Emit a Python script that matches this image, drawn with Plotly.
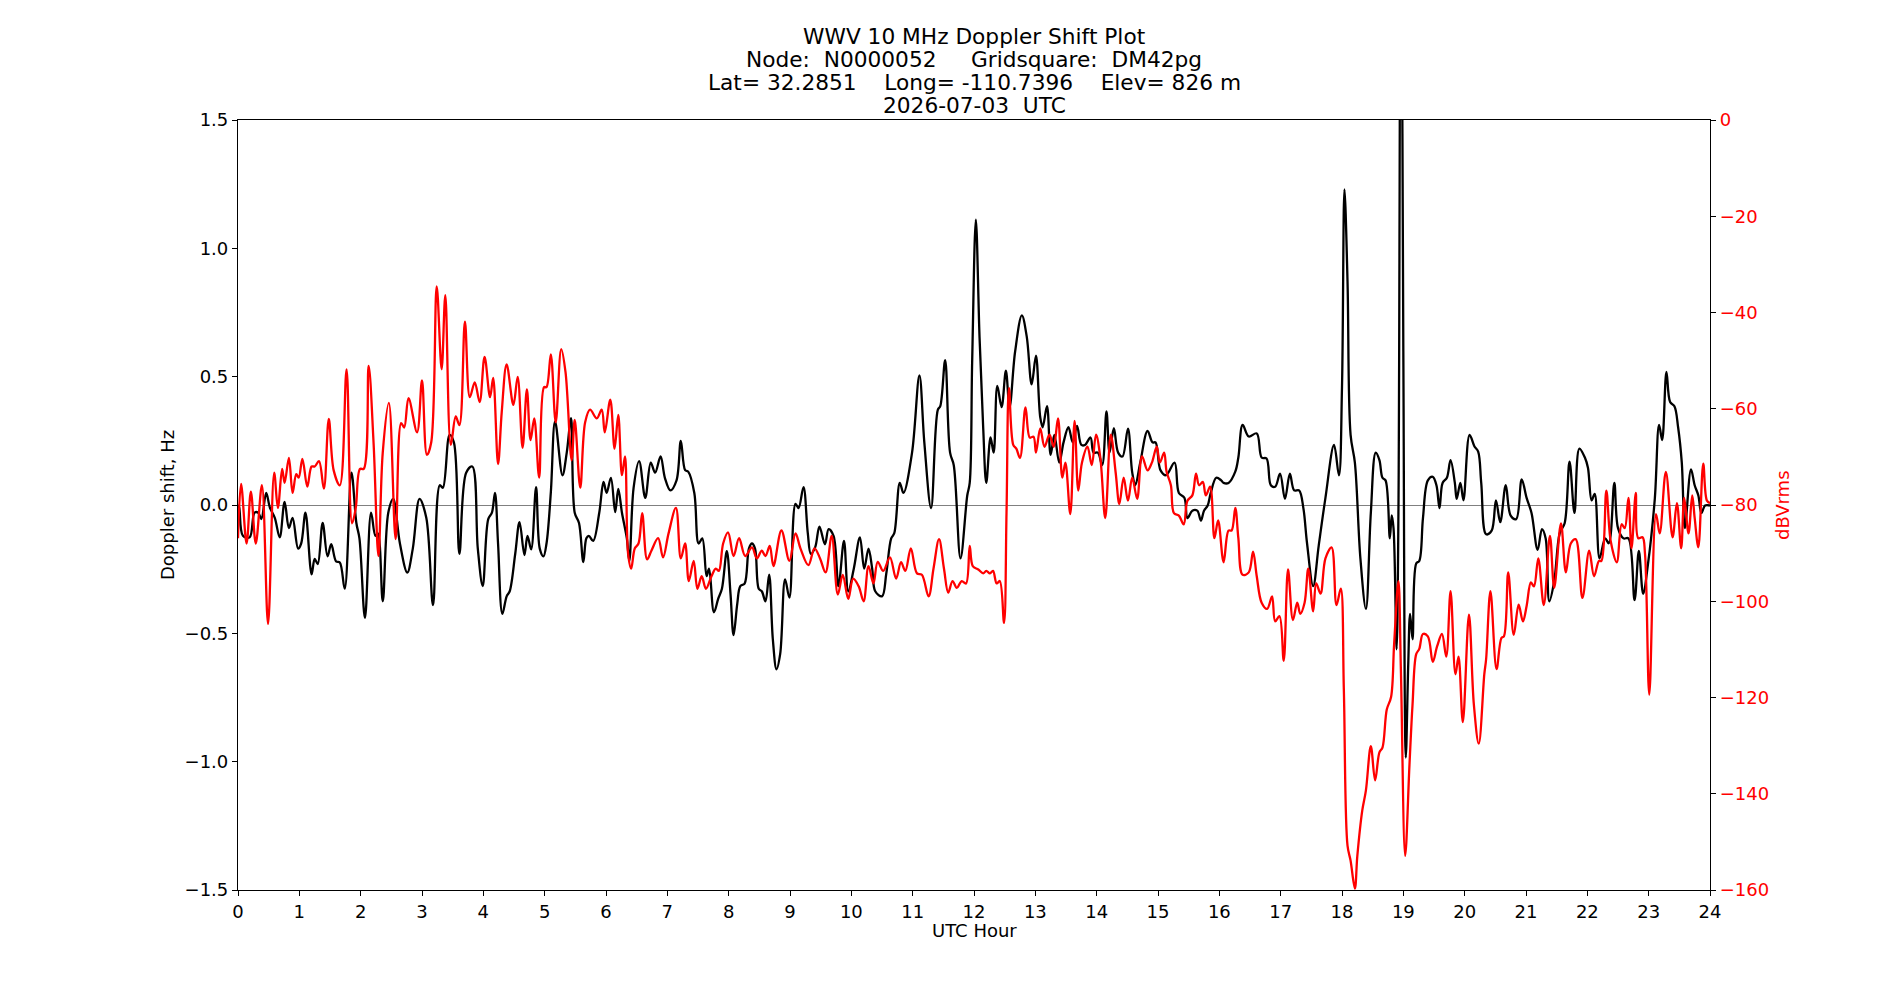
import plotly.graph_objects as go

# ---------------- data ----------------
doppler_hours = [
    0.00, 0.02, 0.08, 0.19, 0.27, 0.33, 0.38, 0.46, 0.52, 0.60, 0.68, 0.76, 0.83, 0.89, 0.98,
    1.03, 1.10, 1.20, 1.25, 1.30, 1.38, 1.46, 1.52, 1.60, 1.66, 1.74, 1.85, 1.93, 1.98, 2.07,
    2.17, 2.24, 2.28, 2.36, 2.45, 2.53, 2.64, 2.76, 2.85, 2.96, 3.07, 3.18, 3.29, 3.34, 3.45,
    3.52, 3.61, 3.72, 3.82, 3.91, 3.99,
    4.08, 4.14, 4.19, 4.24, 4.31, 4.38, 4.43, 4.52, 4.59, 4.67, 4.72, 4.78, 4.86, 4.92, 4.98,
    5.03, 5.10, 5.17, 5.29, 5.36, 5.43, 5.49, 5.56, 5.63, 5.68, 5.72, 5.79, 5.89, 5.96, 6.01,
    6.08, 6.15, 6.20, 6.26, 6.34, 6.38, 6.45, 6.54, 6.64, 6.73, 6.80, 6.89, 6.96, 7.05, 7.15,
    7.22, 7.29, 7.34, 7.44, 7.51, 7.57, 7.64, 7.68, 7.76, 7.83, 7.89, 7.97, 8.03,
    8.08, 8.14, 8.19, 8.26, 8.33, 8.38, 8.43, 8.49, 8.54, 8.60, 8.66, 8.72, 8.78, 8.84, 8.92,
    8.99, 9.09, 9.14, 9.22, 9.29, 9.34, 9.41, 9.48, 9.57, 9.63, 9.71, 9.79, 9.88, 9.95, 10.04,
    10.14, 10.21, 10.28, 10.34, 10.39, 10.50, 10.57, 10.65, 10.70, 10.79, 10.85, 10.99, 11.11,
    11.19, 11.30, 11.41, 11.45, 11.53, 11.61, 11.67, 11.78, 11.89, 11.93, 11.97, 12.03,
    12.09, 12.15, 12.20, 12.27, 12.32, 12.38, 12.45, 12.52, 12.58, 12.67, 12.78, 12.86, 12.94,
    13.01, 13.08, 13.12, 13.19, 13.25, 13.31, 13.39, 13.46, 13.54, 13.61, 13.68, 13.75, 13.81,
    13.90, 13.95, 14.02, 14.09, 14.16, 14.21, 14.28, 14.35, 14.42, 14.51, 14.58, 14.63, 14.71,
    14.83, 14.91, 14.96, 15.04, 15.13, 15.27, 15.34, 15.43, 15.48, 15.56, 15.64, 15.70, 15.75,
    15.81, 15.86, 15.95, 16.03,
    16.07, 16.15, 16.26, 16.31, 16.38, 16.48, 16.61, 16.69, 16.77, 16.84, 16.91, 16.99, 17.07,
    17.15, 17.22, 17.30, 17.37, 17.43, 17.53, 17.62, 17.73, 17.87, 17.95, 18.00, 18.04, 18.09,
    18.14, 18.21, 18.30, 18.39, 18.47, 18.55, 18.61, 18.66, 18.71, 18.78, 18.81, 18.84, 18.89,
    18.92, 18.96, 19.00, 19.04, 19.08, 19.11, 19.15, 19.21, 19.26, 19.32, 19.40, 19.48, 19.54,
    19.59, 19.64, 19.71, 19.77, 19.84, 19.87, 19.93, 19.98,
    20.08, 20.16, 20.22, 20.27, 20.35, 20.44, 20.51, 20.58, 20.67, 20.75, 20.84, 20.93, 21.01,
    21.09, 21.19, 21.26, 21.32, 21.38, 21.46, 21.55, 21.63, 21.71, 21.79, 21.87, 21.96, 22.01,
    22.07, 22.12, 22.20, 22.29, 22.35, 22.44, 22.50, 22.59, 22.67, 22.77, 22.84, 22.91, 22.99,
    23.10, 23.17, 23.22, 23.29, 23.35, 23.42, 23.48, 23.54, 23.59, 23.69, 23.75, 23.81, 23.86,
    23.92, 24.00,
]
doppler_hz = [
    0.00, -0.01, -0.12, -0.126, -0.03, -0.03, -0.055, 0.047, -0.01, -0.05, -0.126, 0.012, -0.09, -0.05, -0.17,
    -0.15, -0.03, -0.27, -0.21, -0.23, -0.07, -0.20, -0.153, -0.22, -0.224, -0.326, 0.126, -0.07, -0.13, -0.44,
    -0.03, -0.12, -0.11, -0.375, -0.03, 0.024, -0.15, -0.263, -0.17, 0.024, -0.05, -0.39, 0.077, 0.067, 0.273,
    0.244, -0.19, 0.126, 0.15, -0.17, -0.316,
    -0.055, -0.03, 0.047, -0.15, -0.424, -0.356, -0.336, -0.19, -0.067, -0.195, -0.12, -0.173, 0.07, -0.17, -0.20,
    -0.15, 0.047, 0.326, 0.116, 0.204, 0.338, -0.03, -0.07, -0.222, -0.13, -0.12, -0.14, -0.03, 0.09, 0.047,
    0.106, -0.028, 0.063, -0.03, -0.13, -0.218, 0.067, 0.171, 0.028, 0.165, 0.126, 0.189, 0.106, 0.057, 0.096,
    0.25, 0.136, 0.13, 0.047, -0.15, -0.13, -0.277, -0.248, -0.418, -0.365, -0.326, -0.18, -0.346,
    -0.507, -0.385, -0.316, -0.306, -0.17, -0.15, -0.17, -0.326, -0.336, -0.375, -0.271, -0.523, -0.64, -0.58, -0.29,
    -0.361, 0.004, -0.012, 0.07, -0.11, -0.19, -0.165, -0.084, -0.153, -0.094, -0.12, -0.316, -0.14, -0.336, -0.248,
    -0.126, -0.248, -0.17, -0.248, -0.336, -0.356, -0.267, -0.13, -0.11, 0.086, 0.047, 0.204, 0.505,
    0.244, -0.012, 0.371, 0.385, 0.564, 0.204, 0.155, -0.208, 0.037, 0.086, 0.558, 1.112,
    0.656, 0.30, 0.086, 0.263, 0.204, 0.464, 0.381, 0.523, 0.381, 0.597, 0.739, 0.656, 0.47,
    0.582, 0.342, 0.303, 0.385, 0.195, 0.273, 0.165, 0.244, 0.303, 0.244, 0.308, 0.234, 0.234,
    0.263, 0.204, 0.204, 0.155, 0.365, 0.204, 0.299, 0.204, 0.189, 0.297, 0.126, 0.077, 0.165,
    0.289, 0.244, 0.244, 0.136, 0.116, 0.165, 0.047, 0.028, -0.051, -0.022, -0.022, -0.061, -0.022,
    -0.002, 0.047, 0.106, 0.096,
    0.086, 0.086, 0.13, 0.185, 0.312, 0.267, 0.279, 0.185, 0.181, 0.077, 0.071, 0.122, 0.024,
    0.122, 0.057, 0.057, -0.012, -0.149, -0.316, -0.159, 0.028, 0.234, 0.116, 0.46, 1.23, 0.872,
    0.273, 0.165, -0.208, -0.405, -0.031, 0.204, 0.175, 0.106, 0.096, -0.13, -0.041, -0.09, -0.562,
    -0.031, 2.6, 0.6, -0.984, -0.62, -0.424, -0.523, -0.228, -0.218, -0.051, 0.096, 0.11, 0.077,
    -0.012, 0.086, 0.106, 0.175, 0.086, 0.024, 0.086, 0.018,
    0.273, 0.228, 0.208, 0.086, -0.114, -0.10, 0.018, -0.067, 0.077, -0.041, -0.055, 0.10, 0.028,
    -0.031, -0.175, -0.094, -0.13, -0.375, -0.297, -0.11, -0.071, 0.169, -0.031, 0.22, 0.185, 0.145,
    0.018, 0.043, -0.208, -0.13, -0.149, 0.086, -0.09, -0.13, -0.13, -0.371, -0.179, -0.346, -0.228,
    0.024, 0.312, 0.253, 0.519, 0.401, 0.385, 0.303, 0.165, -0.09, 0.139, 0.077, 0.037, -0.031,
    -0.002, -0.002,
]

power_hours = [
    0.00, 0.05, 0.14, 0.21, 0.29, 0.39, 0.49, 0.59, 0.65, 0.72, 0.76, 0.83, 0.89, 0.95, 0.99,
    1.05, 1.13, 1.20, 1.25, 1.32, 1.40, 1.48, 1.56, 1.66, 1.77, 1.86, 1.92, 1.99, 2.05, 2.13,
    2.21, 2.29, 2.36, 2.46, 2.57, 2.66, 2.71, 2.78, 2.92, 3.00, 3.08, 3.15, 3.24, 3.32, 3.38,
    3.47, 3.55, 3.61, 3.70, 3.78, 3.86, 3.94, 4.02,
    4.11, 4.16, 4.24, 4.30, 4.38, 4.49, 4.56, 4.64, 4.71, 4.77, 4.83, 4.91, 4.99, 5.03, 5.10,
    5.18, 5.27, 5.34, 5.44, 5.49, 5.58, 5.66, 5.74, 5.85, 5.93, 5.98, 6.07, 6.14, 6.20, 6.26,
    6.31, 6.36, 6.41, 6.47, 6.53, 6.59, 6.67, 6.74, 6.85, 6.93, 7.02, 7.14, 7.22, 7.29, 7.35,
    7.43, 7.49, 7.56, 7.63, 7.72, 7.79, 7.84, 7.91, 7.99,
    8.08, 8.17, 8.27, 8.38, 8.46, 8.54, 8.60, 8.67, 8.73, 8.86, 8.99, 9.09, 9.17, 9.30, 9.40,
    9.49, 9.58, 9.68, 9.78, 9.86, 9.95, 10.03, 10.12, 10.20, 10.28, 10.36, 10.43, 10.52, 10.63,
    10.73, 10.81, 10.88, 10.97, 11.07, 11.15, 11.26, 11.34, 11.43, 11.51, 11.58, 11.65, 11.72,
    11.80, 11.87, 11.93, 11.98,
    12.07, 12.15, 12.20, 12.26, 12.31, 12.37, 12.42, 12.49, 12.53, 12.57, 12.64, 12.69, 12.75,
    12.84, 12.91, 12.97, 13.01, 13.08, 13.15, 13.23, 13.30, 13.37, 13.44, 13.49, 13.57, 13.64,
    13.70, 13.76, 13.85, 13.92, 13.99, 14.06, 14.14, 14.23, 14.31, 14.37, 14.44, 14.51, 14.58,
    14.66, 14.74, 14.83, 14.90, 14.98, 15.03, 15.10, 15.14, 15.21, 15.26, 15.34, 15.42, 15.48,
    15.56, 15.62, 15.67, 15.73, 15.78, 15.85, 15.92, 15.98,
    16.07, 16.15, 16.20, 16.26, 16.31, 16.38, 16.48, 16.55, 16.61, 16.69, 16.78, 16.86, 16.91,
    16.98, 17.05, 17.12, 17.20, 17.27, 17.32, 17.39, 17.45, 17.53, 17.58, 17.65, 17.73, 17.83,
    17.91, 17.98, 18.03, 18.09, 18.14, 18.21, 18.25, 18.33, 18.39, 18.47, 18.54, 18.61, 18.66,
    18.73, 18.80, 18.85, 18.92, 18.96, 19.03, 19.10, 19.15, 19.21, 19.26, 19.32, 19.40, 19.48,
    19.55, 19.63, 19.70, 19.77, 19.85, 19.90, 19.97,
    20.07, 20.15, 20.23, 20.32, 20.35, 20.42, 20.52, 20.60, 20.64, 20.71, 20.80, 20.88, 20.95,
    21.01, 21.08, 21.13, 21.20, 21.29, 21.39, 21.46, 21.57, 21.65, 21.73, 21.81, 21.92, 22.03,
    22.11, 22.19, 22.23, 22.31, 22.38, 22.48, 22.56, 22.61, 22.67, 22.72, 22.79, 22.83, 22.90,
    22.94, 23.01, 23.12, 23.18, 23.28, 23.39, 23.46, 23.53, 23.58, 23.65, 23.71, 23.75, 23.81,
    23.89, 23.95, 24.00,
]
power_dbv = [
    -86.9, -75.6, -88.0, -77.2, -88.0, -75.9, -104.7, -73.3, -80.6, -72.5, -75.4, -70.2, -77.5, -73.6, -74.3,
    -70.4, -76.2, -72.0, -72.0, -70.9, -76.6, -62.1, -72.8, -75.9, -51.8, -83.8, -80.6, -72.5, -72.5, -51.1,
    -67.0, -90.6, -69.1, -58.8, -87.1, -63.0, -63.9, -57.8, -64.9, -54.1, -69.6, -67.0, -34.6, -51.8, -36.4,
    -67.5, -61.6, -63.4, -41.9, -57.6, -54.5, -58.6, -49.2,
    -57.6, -53.6, -71.5, -60.7, -50.8, -59.2, -53.4, -68.1, -56.0, -66.5, -62.0, -74.3, -55.5, -55.5, -48.7,
    -62.8, -47.6, -52.4, -70.7, -62.3, -76.4, -62.8, -60.2, -62.0, -60.2, -64.9, -58.1, -68.3, -61.3, -73.8,
    -69.9, -90.1, -93.2, -89.0, -88.0, -81.7, -91.3, -89.5, -86.9, -90.9, -85.9, -80.6, -91.1, -88.0, -95.8,
    -91.6, -97.4, -94.8, -97.4, -94.8, -93.2, -93.7, -88.0, -85.7,
    -90.6, -86.9, -90.6, -88.8, -91.1, -89.5, -90.6, -88.5, -92.7, -85.3, -91.6, -85.9, -89.0, -92.5, -89.0,
    -91.1, -94.0, -86.4, -98.6, -94.5, -99.5, -95.3, -96.9, -100.0, -92.7, -96.3, -91.8, -93.7, -90.9,
    -95.3, -91.9, -93.7, -89.0, -94.2, -94.5, -99.0, -93.2, -87.1, -93.2, -98.2, -95.8, -97.2,
    -95.8, -96.3, -88.5, -92.7,
    -93.4, -94.2, -93.7, -94.2, -93.7, -96.3, -95.8, -104.5, -81.7, -55.7, -67.5, -68.3, -70.2,
    -59.7, -66.0, -65.8, -69.1, -64.1, -67.9, -65.4, -67.9, -62.0, -74.3, -71.2, -81.9, -62.5,
    -77.0, -71.2, -67.9, -71.7, -65.4, -70.2, -82.7, -65.4, -73.3, -79.8, -74.3, -79.1, -74.3,
    -78.7, -69.9, -72.8, -71.2, -67.9, -71.2, -69.1, -73.1, -75.9, -81.7, -82.2, -84.0, -79.1,
    -78.0, -73.5, -75.9, -75.2, -78.0, -76.2, -86.9, -83.2,
    -91.9, -85.3, -85.3, -80.6, -86.9, -94.5, -94.0, -89.7, -94.8, -100.3, -101.6, -99.0, -104.2,
    -103.1, -112.4, -93.4, -103.9, -100.3, -102.6, -100.3, -93.2, -102.1, -96.3, -98.4, -91.1, -88.8,
    -100.8, -97.4, -118.3, -150.8, -153.9, -159.7, -152.9, -143.5, -139.3, -130.1, -137.2, -131.4, -130.4,
    -122.5, -119.9, -108.9, -95.8, -114.1, -152.9, -134.0, -121.5, -111.0, -109.9, -106.8, -107.3, -112.6,
    -109.4, -106.8, -111.5, -97.9, -115.2, -111.5, -125.1,
    -102.8, -121.5, -129.6, -115.2, -112.0, -97.9, -114.1, -107.6, -107.3, -94.0, -107.0, -100.7, -104.2,
    -101.0, -96.1, -96.9, -91.1, -100.8, -86.4, -97.2, -83.8, -94.0, -88.0, -87.1, -99.3, -89.5,
    -94.8, -91.6, -91.6, -77.0, -87.4, -91.9, -84.0, -84.8, -78.5, -89.0, -77.5, -86.9, -86.7,
    -90.1, -119.4, -81.9, -85.9, -73.1, -86.7, -79.6, -89.0, -78.5, -85.9, -78.0, -82.7, -88.8,
    -71.4, -79.1, -79.6,
]

x_ticks = list(range(0, 25))
title_lines = [
    "WWV 10 MHz Doppler Shift Plot",
    "Node:  N0000052     Gridsquare:  DM42pg",
    "Lat= 32.2851    Long= -110.7396    Elev= 826 m",
    "2026-07-03  UTC",
]

FONT = "DejaVu Sans"

fig = go.Figure()
fig.add_trace(go.Scatter(
    x=doppler_hours, y=doppler_hz, mode="lines",
    line=dict(color="black", width=2.3, shape="spline", smoothing=1.0),
    yaxis="y", showlegend=False, hoverinfo="skip",
))
fig.add_trace(go.Scatter(
    x=power_hours, y=power_dbv, mode="lines",
    line=dict(color="red", width=2.3, shape="spline", smoothing=1.0),
    yaxis="y2", showlegend=False, hoverinfo="skip",
))

fig.update_layout(
    width=1900, height=1000,
    margin=dict(l=238, r=190, t=120, b=110),
    paper_bgcolor="white", plot_bgcolor="white",
    font=dict(family=FONT, size=18, color="black"),
    xaxis=dict(
        range=[0, 24], tickmode="array", tickvals=x_ticks,
        ticktext=[str(t) for t in x_ticks],
        showgrid=False, zeroline=False, showline=True, linecolor="black", linewidth=1.2,
        mirror=True, ticks="outside", ticklen=5, tickwidth=1.2, tickcolor="black",
        tickfont=dict(size=18, color="black"),
    ),
    yaxis=dict(
        range=[-1.5, 1.5], tickmode="linear", tick0=-1.5, dtick=0.5, tickformat=".1f",
        showgrid=False, zeroline=True, zerolinecolor="#808080", zerolinewidth=1.3,
        showline=True, linecolor="black", linewidth=1.2,
        ticks="outside", ticklen=5, tickwidth=1.2, tickcolor="black",
        tickfont=dict(size=18, color="black"),
    ),
    yaxis2=dict(
        range=[-160, 0], tickmode="linear", tick0=-160, dtick=20,
        overlaying="y", side="right", anchor="x",
        showgrid=False, zeroline=False, showline=True, linecolor="black", linewidth=1.2,
        ticks="outside", ticklen=5, tickwidth=1.2, tickcolor="black",
        tickfont=dict(size=18, color="red"),
    ),
)

annotations = []
title_shifts = [83.2, 60.4, 37.6, 14.8]
for line, ys in zip(title_lines, title_shifts):
    annotations.append(dict(
        text=line.replace(" ", "\u00a0"), xref="paper", yref="paper", x=0.5, y=1,
        xanchor="center", yanchor="middle", yshift=ys, showarrow=False,
        font=dict(family=FONT, size=21.7, color="black"),
    ))
annotations.append(dict(
    text="UTC Hour", xref="paper", yref="paper", x=0.5, y=0, xanchor="center",
    yanchor="middle", yshift=-40, showarrow=False, font=dict(family=FONT, size=18, color="black"),
))
annotations.append(dict(
    text="Doppler shift, Hz", xref="paper", yref="paper", x=0, y=0.5, xanchor="center",
    yanchor="middle", xshift=-71, textangle=-90, showarrow=False,
    font=dict(family=FONT, size=18, color="black"),
))
annotations.append(dict(
    text="dBVrms", xref="paper", yref="paper", x=1, y=0.5, xanchor="center",
    yanchor="middle", xshift=72, textangle=-90, showarrow=False,
    font=dict(family=FONT, size=18, color="red"),
))
fig.update_layout(annotations=annotations)

fig.write_html("out.html")
